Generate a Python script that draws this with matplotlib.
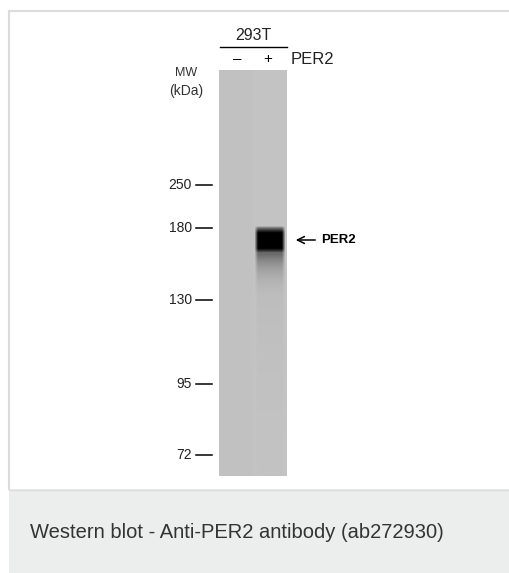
"""Western blot of PER2 in 293T lysate, redrawn with matplotlib"""
import numpy as np
import matplotlib.pyplot as plt
from matplotlib.patches import Rectangle

plt.rcParams['font.family'] = ['Liberation Sans', 'DejaVu Sans']

cell_line = '293T'
lane_labels = ['–', '+']
lane_x = [18, 49]                      # lane centres, gel px
target = 'PER2'
marker_kda = [250, 180, 130, 95, 72]
marker_mig = [115, 158, 230, 314, 385]  # migration from top of gel, px
band_mig = 170
caption = 'Western blot - Anti-PER2 antibody (ab272930)'

GEL_W, GEL_H = 68, 406

fig = plt.figure(figsize=(5.1, 5.73), dpi=100)

# page frame and caption panel, in pixel coords
bg = fig.add_axes([0, 0, 1, 1])
bg.set_xlim(0, 510)
bg.set_ylim(573, 0)
bg.axis('off')
bg.plot([9.5, 9.5], [489, 10.5], c='#dcdcdc', lw=1.5)
bg.plot([9.5, 510], [10.5, 10.5], c='#dcdcdc', lw=1.5)
bg.add_patch(Rectangle((9, 489), 501, 84, facecolor='#eceeee', edgecolor='none'))
bg.plot([9, 510], [489.5, 489.5], c='#dcdcdc', lw=1)
bg.text(30, 532, caption, fontsize=14.5, color='#333333', ha='left', va='center')

# gel image
rows = np.arange(GEL_H)[:, None]
cols = np.arange(GEL_W)[None, :]
img = np.full((GEL_H, GEL_W), 0.755)
img[:, 34:] = 0.765
core = np.clip(2.2 - np.abs(rows - band_mig) / 6.5, 0, 1) ** 0.7
tail = np.where(rows > band_mig, 0.45 * np.exp(-(rows - band_mig - 14) / 16.0), 0)
tail = np.clip(tail, 0, 0.45)
streak = np.where(rows > band_mig, 0.04 * np.exp(-(rows - band_mig - 40) / 90.0), 0)
streak = np.clip(streak, 0, 0.04)
dark_rows = np.maximum(np.maximum(core, tail), streak)
col_mask = np.clip(np.minimum(cols - 35, 66 - cols) / 3.5, 0, 1)
dark = dark_rows * col_mask
img = img * (1 - np.clip(dark, 0, 1))

gel = fig.add_axes([219 / 510, 1 - 476 / 573, GEL_W / 510, GEL_H / 573])
gel.imshow(img, cmap='gray', vmin=0, vmax=1, extent=[0, GEL_W, GEL_H, 0],
           aspect='auto', interpolation='bilinear')
gel.set_xlim(0, GEL_W)
gel.set_ylim(GEL_H, 0)
gel.axis('off')

# header
gel.text(GEL_W / 2, -34, cell_line, fontsize=11.5, ha='center', va='center',
         color='#222222', clip_on=False)
gel.plot([1, GEL_W], [-23, -23], c='black', lw=1, clip_on=False)
for x, lab in zip(lane_x, lane_labels):
    gel.text(x, -11, lab, fontsize=11, ha='center', va='center', clip_on=False)
gel.text(72, -11, target, fontsize=12, ha='left', va='center', color='#222222', clip_on=False)

# marker ladder
gel.text(-33, 3, 'MW', fontsize=9, ha='center', va='center', color='#333333')
gel.text(-33, 21, '(kDa)', fontsize=10, ha='center', va='center', color='#333333')
for kda, mig in zip(marker_kda, marker_mig):
    gel.plot([-23, -7], [mig, mig], c='black', lw=1.1, clip_on=False)
    gel.text(-27, mig, str(kda), fontsize=10, ha='right', va='center', color='#222222')

# band arrow
gel.annotate('', xy=(74, band_mig), xytext=(99, band_mig), annotation_clip=False,
             arrowprops=dict(arrowstyle='->,head_length=0.5,head_width=0.25', color='black', lw=1.1))
gel.text(102, band_mig, target, fontsize=9.5, fontweight='bold', ha='left', va='center')

fig.savefig('out.png', dpi=100)
